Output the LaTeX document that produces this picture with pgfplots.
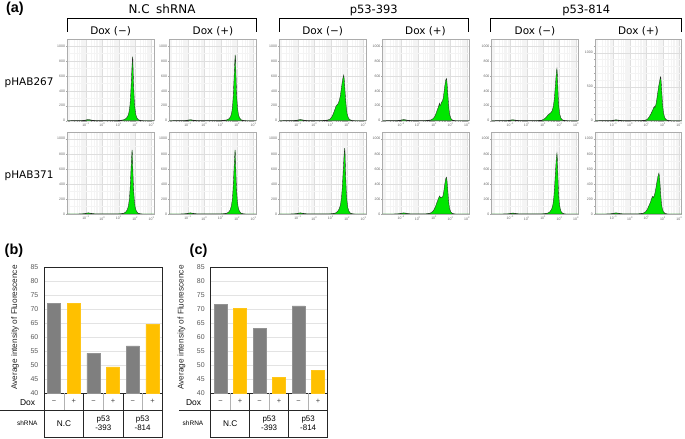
\documentclass[border=0pt]{standalone}
\usepackage{fontspec}
\setmainfont{Liberation Sans}
\newfontfamily\dv{DejaVu Sans}
\usepackage{pgfplots}
\pgfplotsset{compat=1.18}
\definecolor{hgreen}{RGB}{0,230,0}
\definecolor{barGray}{RGB}{127,127,127}
\definecolor{barYel}{RGB}{255,192,0}
\definecolor{tickgray}{RGB}{89,89,89}
\pgfplotsset{
  hist/.style={
    scale only axis, width=86.6bp, height=81.2bp, anchor=south west,
    xmin=-2.13, xmax=3.14, ymin=0, ymax=1090,
    xtick={-1,0,1,2,3},
    xticklabels={10\textsuperscript{−1},10\textsuperscript{0},10\textsuperscript{1},10\textsuperscript{2},10\textsuperscript{3}},
    minor xtick={-2,-2.097,-2.046,-1.699,-1.523,-1.398,-1.301,-1.222,-1.155,-1.097,-1.046,-0.699,-0.523,-0.398,-0.301,-0.222,-0.155,-0.097,-0.046,0.301,0.477,0.602,0.699,0.778,0.845,0.903,0.954,1.301,1.477,1.602,1.699,1.778,1.845,1.903,1.954,2.301,2.477,2.602,2.699,2.778,2.845,2.903,2.954},
    ytick={0,200,400,600,800,1000},
    yticklabels={0,200,400,600,800,1000},
    minor ytick={100,300,500,700,900},
    grid=both,
    major grid style={gray!26, line width=0.35pt},
    minor grid style={gray!9, line width=0.3pt},
    axis line style={gray!65, line width=0.5pt},
    tick style={gray!70, line width=0.3pt},
    tick align=outside, major tick length=1.5bp, minor tick length=0.8bp,
    xtick pos=bottom, ytick pos=left,
    ticklabel style={font=\fontsize{3.5}{4}\selectfont, text=gray!80!black, inner sep=0.6bp},
    /pgf/number format/assume math mode=true,
  },
  hplot/.style={fill=hgreen, draw=black!85, line width=0.35pt},
  barax/.style={
    scale only axis, height=126bp, anchor=south west,
    ymin=40, ymax=85, xmin=-0.5, xmax=5.5,
    ytick={40,45,...,85}, xtick=\empty,
    ymajorgrids, grid style={gray!22, line width=0.5pt},
    axis line style={black!85, line width=0.6pt},
    major tick length=0pt,
    yticklabel style={font=\fontsize{7}{7}\selectfont, text=tickgray, xshift=-2.5bp},
    /pgf/number format/assume math mode=true,
  },
  gbar/.style={ybar, bar width=0.66, bar shift=0pt, fill=barGray, draw=gray!85},
  ybarst/.style={ybar, bar width=0.66, bar shift=0pt, fill=barYel, draw=barYel!90!white},
}
\begin{document}
\begin{tikzpicture}
\useasboundingbox (0bp,0bp) rectangle (685bp,439bp);

% ---------------- Panel (a), row 1 : pHAB267 ----------------
\begin{axis}[hist, at={(67.3bp,318.3bp)}]
\addplot[hplot] coordinates {(-2.13,0) (-1.4,1) (-1.1,5) (-0.95,12) (-0.85,16) (-0.75,12) (-0.6,6) (-0.4,2) (0,1) (0.8,2) (1.1,5) (1.3,12) (1.45,30) (1.55,60) (1.62,110) (1.68,200) (1.72,320) (1.76,500) (1.8,700) (1.84,860) (1.86,820) (1.88,650) (1.91,450) (1.94,300) (1.98,180) (2.03,90) (2.1,40) (2.2,12) (2.35,3) (2.5,0) (3.14,0)} \closedcycle;
\end{axis}
\begin{axis}[hist, at={(169.3bp,318.3bp)}]
\addplot[hplot] coordinates {(-2.13,0) (-1.4,1) (-1.1,4) (-0.95,10) (-0.85,13) (-0.75,10) (-0.6,5) (-0.4,2) (0,1) (0.8,2) (1.1,4) (1.35,10) (1.5,25) (1.6,55) (1.67,110) (1.72,200) (1.76,330) (1.8,520) (1.84,730) (1.88,885) (1.9,840) (1.92,670) (1.95,460) (1.98,300) (2.02,180) (2.07,90) (2.14,40) (2.24,12) (2.4,3) (2.55,0) (3.14,0)} \closedcycle;
\end{axis}
\begin{axis}[hist, at={(279.3bp,318.3bp)}]
\addplot[hplot] coordinates {(-2.13,0) (-1.4,1) (-1.1,5) (-0.95,12) (-0.85,15) (-0.75,12) (-0.6,6) (-0.4,2) (0,1) (0.5,3) (0.8,8) (0.95,20) (1.05,45) (1.15,90) (1.25,150) (1.32,195) (1.38,210) (1.45,230) (1.52,270) (1.58,330) (1.64,420) (1.7,520) (1.75,580) (1.79,612) (1.82,560) (1.86,430) (1.9,300) (1.95,170) (2.0,90) (2.07,40) (2.15,15) (2.3,3) (2.45,0) (3.14,0)} \closedcycle;
\end{axis}
\begin{axis}[hist, at={(382.7bp,318.3bp)}]
\addplot[hplot] coordinates {(-2.13,0) (-1.4,1) (-1.1,5) (-0.95,12) (-0.85,15) (-0.75,12) (-0.6,6) (-0.4,2) (0,1) (0.5,3) (0.8,10) (0.95,30) (1.05,60) (1.12,100) (1.2,150) (1.27,190) (1.32,235) (1.36,200) (1.4,215) (1.45,250) (1.5,260) (1.55,300) (1.6,380) (1.65,470) (1.7,540) (1.75,567) (1.78,520) (1.82,400) (1.86,270) (1.9,160) (1.95,80) (2.02,30) (2.12,8) (2.3,0) (3.14,0)} \closedcycle;
\end{axis}
\begin{axis}[hist, at={(491.7bp,318.3bp)}]
\addplot[hplot] coordinates {(-2.13,0) (-1.4,1) (-1.1,4) (-0.95,10) (-0.85,13) (-0.75,10) (-0.6,5) (-0.4,2) (0,1) (0.6,2) (0.9,6) (1.05,20) (1.2,50) (1.3,80) (1.4,95) (1.48,110) (1.55,135) (1.62,190) (1.68,290) (1.73,430) (1.78,580) (1.82,680) (1.84,700) (1.86,640) (1.89,480) (1.92,320) (1.96,180) (2.01,90) (2.08,35) (2.18,10) (2.35,2) (2.5,0) (3.14,0)} \closedcycle;
\end{axis}
\begin{axis}[hist, at={(595bp,318.3bp)}, ymax=1195, ytick={0,500,1000}, yticklabels={0,500,1000}, minor ytick={100,200,300,400,600,700,800,900,1100}]
\addplot[hplot] coordinates {(-2.13,0) (-1.4,1) (-1.1,4) (-0.95,10) (-0.85,13) (-0.75,10) (-0.6,5) (-0.4,2) (0,1) (0.6,2) (0.9,6) (1.05,20) (1.15,50) (1.25,90) (1.35,140) (1.42,180) (1.48,210) (1.52,195) (1.57,230) (1.62,300) (1.68,400) (1.74,500) (1.8,580) (1.85,640) (1.87,647) (1.9,560) (1.94,400) (1.98,250) (2.03,130) (2.1,50) (2.2,15) (2.35,3) (2.5,0) (3.14,0)} \closedcycle;
\end{axis}

% ---------------- Panel (a), row 2 : pHAB371 ----------------
\begin{axis}[hist, at={(67.3bp,225bp)}, height=82bp]
\addplot[hplot] coordinates {(-2.13,0) (-1.4,1) (-1.1,5) (-0.95,12) (-0.85,15) (-0.75,12) (-0.6,6) (-0.4,2) (0,1) (0.8,2) (1.1,4) (1.3,10) (1.42,25) (1.52,55) (1.59,110) (1.65,200) (1.69,330) (1.73,510) (1.77,700) (1.81,853) (1.83,810) (1.85,650) (1.88,450) (1.91,300) (1.95,180) (2.0,90) (2.07,40) (2.17,12) (2.32,3) (2.47,0) (3.14,0)} \closedcycle;
\end{axis}
\begin{axis}[hist, at={(169.3bp,225bp)}, height=82bp]
\addplot[hplot] coordinates {(-2.13,0) (-1.4,1) (-1.1,5) (-0.95,12) (-0.85,15) (-0.75,12) (-0.6,6) (-0.4,2) (0,1) (0.8,2) (1.15,4) (1.36,10) (1.48,25) (1.58,55) (1.65,110) (1.71,200) (1.75,330) (1.79,510) (1.83,700) (1.87,853) (1.89,810) (1.91,650) (1.94,450) (1.97,300) (2.01,180) (2.06,90) (2.13,40) (2.23,12) (2.38,3) (2.53,0) (3.14,0)} \closedcycle;
\end{axis}
\begin{axis}[hist, at={(279.3bp,225bp)}, height=82bp]
\addplot[hplot] coordinates {(-2.13,0) (-1.4,1) (-1.1,5) (-0.95,12) (-0.85,15) (-0.75,12) (-0.6,6) (-0.4,2) (0,1) (0.8,2) (1.1,5) (1.3,14) (1.42,35) (1.52,70) (1.6,130) (1.66,230) (1.71,380) (1.76,580) (1.81,780) (1.85,876) (1.87,820) (1.89,650) (1.92,440) (1.95,290) (1.99,170) (2.04,85) (2.11,35) (2.21,10) (2.36,2) (2.5,0) (3.14,0)} \closedcycle;
\end{axis}
\begin{axis}[hist, at={(382.7bp,225bp)}, height=82bp]
\addplot[hplot] coordinates {(-2.13,0) (-1.4,1) (-1.1,5) (-0.95,12) (-0.85,15) (-0.75,12) (-0.6,6) (-0.4,2) (0,1) (0.5,3) (0.75,10) (0.9,30) (1.0,60) (1.1,110) (1.18,160) (1.25,200) (1.3,225) (1.34,240) (1.38,215) (1.43,225) (1.48,220) (1.53,235) (1.58,290) (1.63,370) (1.68,440) (1.72,480) (1.75,489) (1.78,450) (1.82,350) (1.86,230) (1.9,130) (1.95,65) (2.02,25) (2.12,7) (2.3,0) (3.14,0)} \closedcycle;
\end{axis}
\begin{axis}[hist, at={(491.7bp,225bp)}, height=82bp]
\addplot[hplot] coordinates {(-2.13,0) (-1.4,1) (-1.1,4) (-0.95,10) (-0.85,13) (-0.75,10) (-0.6,5) (-0.4,2) (0,1) (0.8,2) (1.1,5) (1.3,14) (1.42,32) (1.52,65) (1.59,120) (1.65,220) (1.7,370) (1.75,560) (1.8,740) (1.84,809) (1.86,760) (1.89,570) (1.92,380) (1.95,240) (1.99,130) (2.05,60) (2.12,22) (2.24,5) (2.4,0) (3.14,0)} \closedcycle;
\end{axis}
\begin{axis}[hist, at={(595bp,225bp)}, height=82bp]
\addplot[hplot] coordinates {(-2.13,0) (-1.4,1) (-1.1,5) (-0.95,12) (-0.85,15) (-0.75,12) (-0.6,6) (-0.4,2) (0,1) (0.5,3) (0.8,10) (0.95,30) (1.05,60) (1.15,110) (1.25,160) (1.32,210) (1.38,235) (1.42,220) (1.47,240) (1.52,280) (1.58,350) (1.64,430) (1.7,500) (1.76,543) (1.79,500) (1.83,390) (1.87,260) (1.91,150) (1.96,75) (2.03,30) (2.13,8) (2.3,0) (3.14,0)} \closedcycle;
\end{axis}

% ---------------- Panel (b) ----------------
\begin{axis}[barax, width=118bp, at={(44.3bp,45.7bp)}]
\addplot[gbar] coordinates {(0,72.1) (2,54.3) (4,56.9)};
\addplot[ybarst] coordinates {(1,72.1) (3,49.4) (5,64.75)};
\end{axis}

% ---------------- Panel (c) ----------------
\begin{axis}[barax, width=117bp, at={(210.7bp,45.7bp)}]
\addplot[gbar] coordinates {(0,71.8) (2,63.3) (4,71.2)};
\addplot[ybarst] coordinates {(1,70.4) (3,45.8) (5,48.3)};
\end{axis}

\begin{scope}[x=1bp,y=1bp]
% ---------------- Panel (a) headers ----------------
\node[anchor=base west, font=\bfseries\fontsize{14.5}{14.5}\selectfont] at (2.5,426.3) {(a)};
\draw[line width=1.1bp] (67.3,407) -- (67.3,420.7) -- (256.7,420.7) -- (256.7,407);
\draw[line width=1.1bp] (279.3,407) -- (279.3,420.7) -- (468.3,420.7) -- (468.3,407);
\draw[line width=1.1bp] (490.7,407) -- (490.7,420.7) -- (681.7,420.7) -- (681.7,407);
\node[anchor=base, font=\dv\fontsize{12}{12}\selectfont] at (162,425.7) {N.C\hspace{0.55em}shRNA};
\node[anchor=base, font=\dv\fontsize{11.5}{11.5}\selectfont] at (373.8,425.7) {p53-393};
\node[anchor=base, font=\dv\fontsize{11.5}{11.5}\selectfont] at (586.2,425.7) {p53-814};
\foreach \cx/\lab in {110.6/−,213/+,322.7/−,425.5/+,535/−,638.4/+}{
  \node[anchor=base, font=\dv\fontsize{10.5}{10.5}\selectfont] at (\cx,404.7) {Dox (\lab)};
}
\node[anchor=base west, font=\dv\fontsize{10.5}{10.5}\selectfont] at (1.2,354) {pHAB267};
\node[anchor=base west, font=\dv\fontsize{10.5}{10.5}\selectfont] at (1.2,260.7) {pHAB371};

% ---------------- Panel (b) extras ----------------
\node[anchor=base west, font=\bfseries\fontsize{14.5}{14.5}\selectfont] at (1.2,185) {(b)};
\node[rotate=90, font=\fontsize{8.3}{8.3}\selectfont, text=black!85] at (15,111.5) {Average intensity of Fluorescence};
\draw[line width=0.6pt, black!85] (0,29) -- (162.3,29);
\draw[line width=0.6pt, black!85] (44.3,45.7) -- (44.3,1.3) -- (162.3,1.3) -- (162.3,45.7);
\draw[line width=0.6pt, black!85] (83.6,45.7) -- (83.6,1.3) (123,45.7) -- (123,1.3);
\draw[line width=0.6pt, gray!60] (64,45.7) -- (64,29) (103.3,45.7) -- (103.3,29) (142.6,45.7) -- (142.6,29);
\node[anchor=base east, font=\fontsize{8.5}{8.5}\selectfont] at (38.6,34) {Dox};
\foreach \cx/\lab in {54.1/−,73.8/+,93.5/−,113.1/+,132.8/−,152.5/+}{
  \node[font=\fontsize{7.5}{7.5}\selectfont, text=black!75] at (\cx,37.3) {\lab};
}
\node[font=\fontsize{6.5}{6.5}\selectfont] at (27.3,16) {shRNA};
\node[font=\fontsize{8.3}{8.3}\selectfont] at (64,15.5) {N.C};
\node[font=\fontsize{8}{9}\selectfont, align=center] at (103.3,15.3) {p53\\-393};
\node[font=\fontsize{8}{9}\selectfont, align=center] at (142.6,15.3) {p53\\-814};

% ---------------- Panel (c) extras ----------------
\node[anchor=base west, font=\bfseries\fontsize{14.5}{14.5}\selectfont] at (186.2,185) {(c)};
\node[rotate=90, font=\fontsize{8.3}{8.3}\selectfont, text=black!85] at (181.6,111.5) {Average intensity of Fluorescence};
\draw[line width=0.6pt, black!85] (179,29) -- (327.7,29);
\draw[line width=0.6pt, black!85] (210.7,45.7) -- (210.7,1.8) -- (327.7,1.8) -- (327.7,45.7);
\draw[line width=0.6pt, black!85] (249.7,45.7) -- (249.7,1.8) (288.7,45.7) -- (288.7,1.8);
\draw[line width=0.6pt, gray!60] (230.2,45.7) -- (230.2,29) (269.2,45.7) -- (269.2,29) (308.2,45.7) -- (308.2,29);
\node[anchor=base east, font=\fontsize{8.5}{8.5}\selectfont] at (204.6,34) {Dox};
\foreach \cx/\lab in {220.45/−,239.95/+,259.45/−,278.95/+,298.45/−,317.95/+}{
  \node[font=\fontsize{7.5}{7.5}\selectfont, text=black!75] at (\cx,37.3) {\lab};
}
\node[font=\fontsize{6.5}{6.5}\selectfont] at (193,16) {shRNA};
\node[font=\fontsize{8.3}{8.3}\selectfont] at (230.2,15.5) {N.C};
\node[font=\fontsize{8}{9}\selectfont, align=center] at (269.2,15.3) {p53\\-393};
\node[font=\fontsize{8}{9}\selectfont, align=center] at (308.2,15.3) {p53\\-814};
\end{scope}
\end{tikzpicture}
\end{document}
